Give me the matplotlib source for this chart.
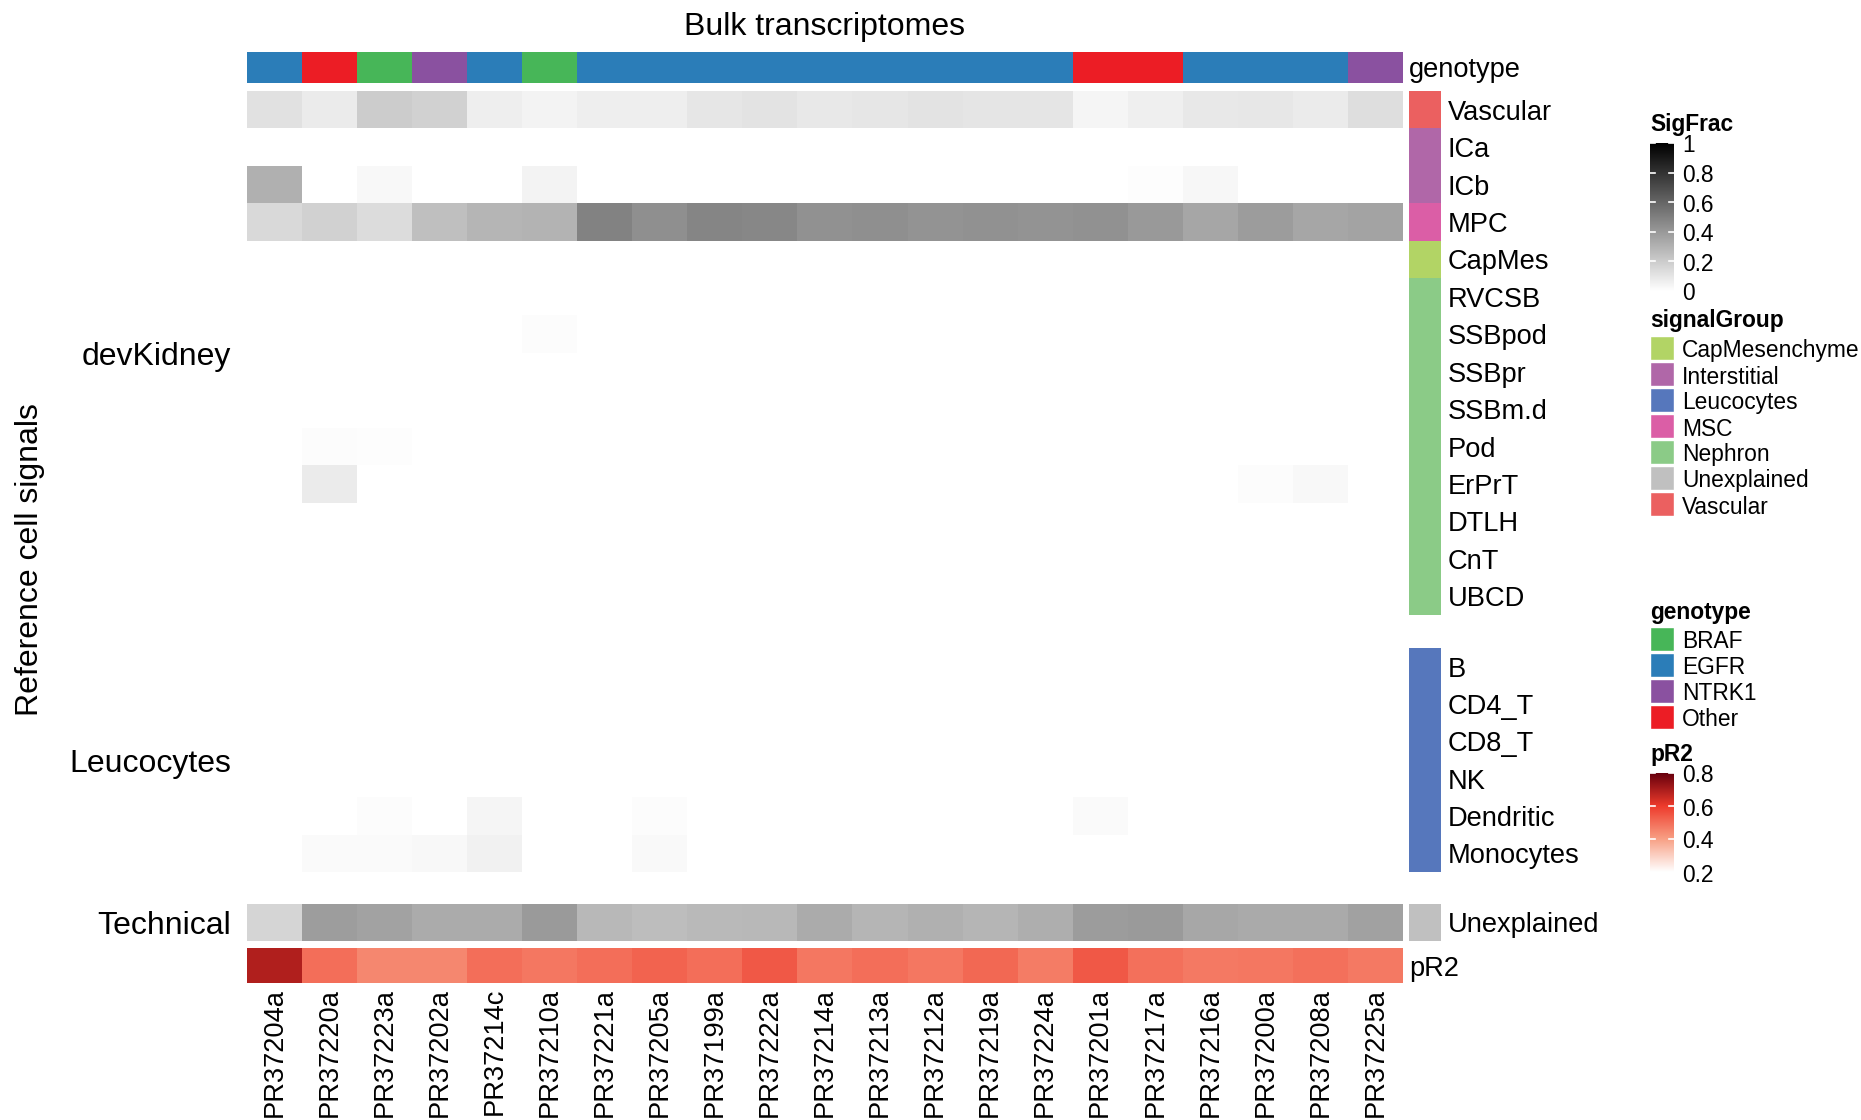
import matplotlib.pyplot as plt
import numpy as np
from matplotlib.colors import ListedColormap, LinearSegmentedColormap

plt.rcParams['font.family'] = ['Liberation Sans', 'DejaVu Sans']

#--------------------#
# DATA
samples = ['PR37204a', 'PR37220a', 'PR37223a', 'PR37202a', 'PR37214c', 'PR37210a', 'PR37221a',
           'PR37205a', 'PR37199a', 'PR37222a', 'PR37214a', 'PR37213a', 'PR37212a', 'PR37219a',
           'PR37224a', 'PR37201a', 'PR37217a', 'PR37216a', 'PR37200a', 'PR37208a', 'PR37225a']
genotype = ['EGFR', 'Other', 'BRAF', 'NTRK1', 'EGFR', 'BRAF', 'EGFR', 'EGFR', 'EGFR', 'EGFR', 'EGFR',
            'EGFR', 'EGFR', 'EGFR', 'EGFR', 'Other', 'Other', 'EGFR', 'EGFR', 'EGFR', 'NTRK1']

devkidney_rows = ['Vascular', 'ICa', 'ICb', 'MPC', 'CapMes', 'RVCSB', 'SSBpod', 'SSBpr',
                  'SSBm.d', 'Pod', 'ErPrT', 'DTLH', 'CnT', 'UBCD']
devkidney_groups = ['Vascular', 'Interstitial', 'Interstitial', 'MSC', 'CapMesenchyme'] + ['Nephron'] * 9
leuco_rows = ['B', 'CD4_T', 'CD8_T', 'NK', 'Dendritic', 'Monocytes']
tech_rows = ['Unexplained']

vascular = [0.12, 0.08, 0.20, 0.18, 0.07, 0.05, 0.07, 0.07, 0.10, 0.11, 0.09,
            0.10, 0.11, 0.105, 0.105, 0.04, 0.065, 0.09, 0.095, 0.08, 0.13]
ica = [0, 0, 0, 0, 0, 0, 0, 0, 0, 0, 0, 0, 0, 0, 0, 0, 0, 0, 0, 0, 0]
icb = [0.31, 0, 0.03, 0, 0, 0.05, 0, 0, 0, 0, 0, 0, 0, 0, 0, 0, 0.01, 0.035, 0, 0, 0]
mpc = [0.15, 0.18, 0.14, 0.25, 0.29, 0.30, 0.49, 0.44, 0.48, 0.47, 0.43,
       0.44, 0.42, 0.43, 0.42, 0.43, 0.40, 0.35, 0.39, 0.35, 0.36]
capmes = [0, 0, 0, 0, 0, 0, 0, 0, 0, 0, 0, 0, 0, 0, 0, 0, 0, 0, 0, 0, 0]
rvcsb = [0, 0, 0, 0, 0, 0, 0, 0, 0, 0, 0, 0, 0, 0, 0, 0, 0, 0, 0, 0, 0]
ssbpod = [0, 0, 0, 0, 0, 0.012, 0, 0, 0, 0, 0, 0, 0, 0, 0, 0, 0, 0, 0, 0, 0]
ssbpr = [0, 0, 0, 0, 0, 0, 0, 0, 0, 0, 0, 0, 0, 0, 0, 0, 0, 0, 0, 0, 0]
ssbmd = [0, 0, 0, 0, 0, 0, 0, 0, 0, 0, 0, 0, 0, 0, 0, 0, 0, 0, 0, 0, 0]
pod = [0, 0.015, 0.008, 0, 0, 0, 0, 0, 0, 0, 0, 0, 0, 0, 0, 0, 0, 0, 0, 0, 0]
erprt = [0, 0.08, 0, 0, 0, 0, 0, 0, 0, 0, 0, 0, 0, 0, 0, 0, 0, 0, 0.012, 0.03, 0]
dtlh = [0, 0, 0, 0, 0, 0, 0, 0, 0, 0, 0, 0, 0, 0, 0, 0, 0, 0, 0, 0, 0]
cnt = [0, 0, 0, 0, 0, 0, 0, 0, 0, 0, 0, 0, 0, 0, 0, 0, 0, 0, 0, 0, 0]
ubcd = [0, 0, 0, 0, 0, 0, 0, 0, 0, 0, 0, 0, 0, 0, 0, 0, 0, 0, 0, 0, 0]

b_cells = [0, 0, 0, 0, 0, 0, 0, 0, 0, 0, 0, 0, 0, 0, 0, 0, 0, 0, 0, 0, 0]
cd4_t = [0, 0, 0, 0, 0, 0, 0, 0, 0, 0, 0, 0, 0, 0, 0, 0, 0, 0, 0, 0, 0]
cd8_t = [0, 0, 0, 0, 0, 0, 0, 0, 0, 0, 0, 0, 0, 0, 0, 0, 0, 0, 0, 0, 0]
nk = [0, 0, 0, 0, 0, 0, 0, 0, 0, 0, 0, 0, 0, 0, 0, 0, 0, 0, 0, 0, 0]
dendritic = [0, 0, 0.015, 0, 0.04, 0, 0, 0.015, 0, 0, 0, 0, 0, 0, 0, 0.02, 0, 0, 0, 0, 0]
monocytes = [0, 0.02, 0.02, 0.03, 0.055, 0, 0, 0.025, 0, 0, 0, 0, 0, 0, 0, 0, 0, 0, 0, 0, 0]

unexplained = [0.165, 0.385, 0.365, 0.33, 0.33, 0.395, 0.28, 0.26, 0.275, 0.28, 0.33,
               0.29, 0.31, 0.29, 0.32, 0.39, 0.395, 0.345, 0.335, 0.335, 0.37]
pr2 = [0.69, 0.50, 0.45, 0.45, 0.50, 0.48, 0.50, 0.52, 0.50, 0.54, 0.48,
       0.50, 0.48, 0.51, 0.47, 0.54, 0.495, 0.475, 0.48, 0.495, 0.475]

group_names = ['CapMesenchyme', 'Interstitial', 'Leucocytes', 'MSC', 'Nephron', 'Unexplained', 'Vascular']
group_colors = ['#B2D465', '#B067A8', '#5677BC', '#DB5EA6', '#8BCB87', '#C0C0C0', '#EB6060']
geno_names = ['BRAF', 'EGFR', 'NTRK1', 'Other']
geno_colors = ['#47B658', '#2B7DB8', '#8A51A0', '#EC1D25']

#--------------------#
# FIGURE SETUP
W, H = 1861, 1120
fig = plt.figure(figsize=(W / 100, H / 100), dpi=100)

sig_cmap = LinearSegmentedColormap.from_list('sig', ['#FFFFFF', '#000000'])
pr2_cmap = LinearSegmentedColormap.from_list(
    'pr2', [(0, '#FFFFFF'), (1 / 3, '#F8A085'), (2 / 3, '#EE3B2C'), (1, '#67000D')])
grp_cmap = ListedColormap(group_colors)
geno_cmap = ListedColormap(geno_colors)


def px_axes(x0, y0, x1, y1):
    ax = fig.add_axes([x0 / W, 1 - y1 / H, (x1 - x0) / W, (y1 - y0) / H])
    ax.set_axis_off()
    return ax


def fig_text(x, y, s, **kw):
    # small downward nudge for vertically centred text (matches the R grid look)
    if kw.get('va') == 'center' and kw.get('rotation', 0) == 0:
        y = y + 3
    fig.text(x / W, 1 - y / H, s, **kw)


HX0, HX1 = 247, 1403
AX0, AX1 = 1409, 1441
FS = 19.6

#--------------------#
# GENOTYPE ANNOTATION
ax = px_axes(HX0, 52, HX1, 83)
ax.imshow([[geno_names.index(g) for g in genotype]], cmap=geno_cmap, vmin=-0.5,
          vmax=len(geno_names) - 0.5, aspect='auto', interpolation='nearest')
fig_text(AX0, 67, 'genotype', fontsize=FS, va='center', ha='left')

#--------------------#
# HEATMAP SLICES
slices = [
    ('devKidney', devkidney_rows, devkidney_groups,
     [vascular, ica, icb, mpc, capmes, rvcsb, ssbpod, ssbpr, ssbmd, pod, erprt, dtlh, cnt, ubcd], 91, 615),
    ('Leucocytes', leuco_rows, ['Leucocytes'] * 6,
     [b_cells, cd4_t, cd8_t, nk, dendritic, monocytes], 648, 872),
    ('Technical', tech_rows, ['Unexplained'], [unexplained], 904, 941),
]

for title, rows, groups, mat, y0, y1 in slices:
    ax = px_axes(HX0, y0, HX1, y1)
    ax.imshow(np.array(mat), cmap=sig_cmap, vmin=0, vmax=1, aspect='auto', interpolation='nearest')
    ax2 = px_axes(AX0, y0, AX1, y1)
    ax2.imshow([[group_names.index(g)] for g in groups], cmap=grp_cmap, vmin=-0.5,
               vmax=len(group_names) - 0.5, aspect='auto', interpolation='nearest')
    rh = (y1 - y0) / len(rows)
    for i, r in enumerate(rows):
        fig_text(1448, y0 + (i + 0.5) * rh, r, fontsize=FS, va='center', ha='left')
    fig_text(231, (y0 + y1) / 2 + 1, title, fontsize=23, va='center', ha='right')

#--------------------#
# pR2 ANNOTATION
ax = px_axes(HX0, 948, HX1, 983)
ax.imshow([pr2], cmap=pr2_cmap, vmin=0.2, vmax=0.8, aspect='auto', interpolation='nearest')
fig_text(AX0, 966, 'pR2', fontsize=FS, va='center', ha='left')

cw = (HX1 - HX0) / len(samples)
for i, s in enumerate(samples):
    fig_text(HX0 + (i + 0.5) * cw, 988, s, fontsize=FS, rotation=90, va='top', ha='center')

#--------------------#
# TITLES
fig_text((HX0 + HX1) / 2, 24, 'Bulk transcriptomes', fontsize=23, va='center', ha='center')
fig_text(30, 560, 'Reference cell signals', fontsize=23, rotation=90, va='center', ha='center')

#--------------------#
# LEGENDS
LX = 1650
LFS = 16.4


def colorbar_legend(title, cmap, vmin, vmax, ticks, ty, y0, y1):
    fig_text(LX, ty, title, fontsize=LFS, fontweight='bold', va='center', ha='left')
    ax = px_axes(LX, y0, LX + 24, y1)
    ax.imshow(np.linspace(vmax, vmin, 256)[:, None], cmap=cmap, vmin=vmin, vmax=vmax,
              aspect='auto', extent=(0, 1, vmin, vmax))
    ax.set_xlim(0, 1)
    ax.set_ylim(vmin, vmax)
    for t in ticks:
        ax.plot([0, 0.22], [t, t], color='white', lw=1.2)
        ax.plot([0.78, 1], [t, t], color='white', lw=1.2)
        yy = y1 - (t - vmin) / (vmax - vmin) * (y1 - y0)
        fig_text(LX + 32, yy, ('%g' % t), fontsize=LFS, va='center', ha='left')


def discrete_legend(title, names, colors, ty, first_y, step=26):
    fig_text(LX, ty, title, fontsize=LFS, fontweight='bold', va='center', ha='left')
    for i, (n, c) in enumerate(zip(names, colors)):
        yc = first_y + i * step
        ax = px_axes(LX, yc - 12, LX + 24, yc + 12)
        ax.set_facecolor(c)
        ax.set_axis_on()
        ax.set_xticks([])
        ax.set_yticks([])
        for sp in ax.spines.values():
            sp.set_color('white')
            sp.set_linewidth(1)
        fig_text(LX + 32, yc, n, fontsize=LFS, va='center', ha='left')


colorbar_legend('SigFrac', sig_cmap, 0, 1, [0, 0.2, 0.4, 0.6, 0.8, 1], 122, 143, 291)
discrete_legend('signalGroup', group_names, group_colors, 318, 348)
discrete_legend('genotype', geno_names, geno_colors, 609, 639)
colorbar_legend('pR2', pr2_cmap, 0.2, 0.8, [0.2, 0.4, 0.6, 0.8], 751, 773, 872)

plt.savefig('out.png', dpi=100)
